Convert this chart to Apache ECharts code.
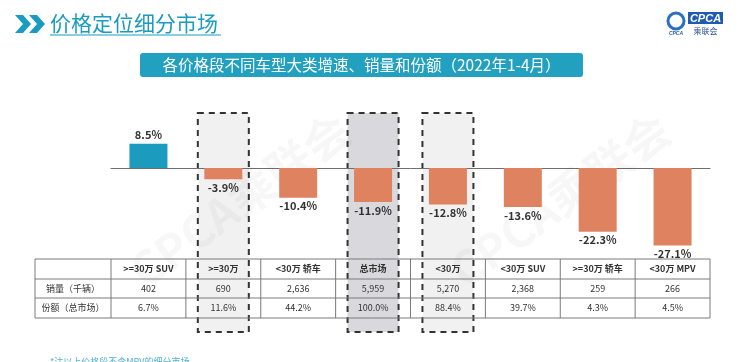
<!DOCTYPE html>
<html><head><meta charset="utf-8">
<script src="https://cdn.jsdelivr.net/npm/echarts@6/dist/echarts.min.js"></script>
<style>html,body{margin:0;padding:0;background:#fff}#c{width:744px;height:362px}</style>
</head><body><div id="c"></div>
<script>
var categories = ['>=30万 SUV', '>=30万', '<30万 轿车', '总市场', '<30万', '<30万 SUV', '>=30万 轿车', '<30万 MPV'];
var growth = [8.5, -3.9, -10.4, -11.9, -12.8, -13.6, -22.3, -27.1];
var sales = ['402', '690', '2,636', '5,959', '5,270', '2,368', '259', '266'];
var share = ['6.7%', '11.6%', '44.2%', '100.0%', '88.4%', '39.7%', '4.3%', '4.5%'];
var rowLabels = ['销量（千辆）', '份额（总市场）'];
var highlighted = { 1: '#f1f1f2', 3: '#d8d8dd', 4: '#f1f1f2' };

var FONT = '"Noto Sans CJK SC", "Noto Sans", sans-serif';
var chart = echarts.init(document.getElementById('c'), null, { renderer: 'canvas' });

var option = {
  backgroundColor: '#fff',
  animation: false,
  grid: { left: 111, right: 34, top: 125.1, height: 128.7 },
  xAxis: {
    type: 'category', data: categories,
    axisLine: { onZero: true, lineStyle: { color: '#6e6e6e', width: 1 } },
    axisTick: { show: false }, axisLabel: { show: false }
  },
  yAxis: {
    type: 'value', min: -30, max: 15, show: false, splitLine: { show: false }
  },
  series: [{
    type: 'bar', barWidth: 38, z: 5,
    data: growth.map(function (v) {
      return {
        value: v,
        itemStyle: { color: v >= 0 ? '#1b9cbf' : '#df8260' },
        label: { position: v >= 0 ? 'top' : 'bottom' }
      };
    }),
    label: {
      show: true, distance: 3, color: '#333', fontSize: 11, fontWeight: 'bold',
      fontFamily: FONT,
      formatter: function (p) { return p.value.toFixed(1) + '%'; }
    }
  }]
};
chart.setOption(option);

function build() {
  var g = [];
  var catW = chart.convertToPixel({ xAxisIndex: 0 }, 1) - chart.convertToPixel({ xAxisIndex: 0 }, 0);
  var tableLeft = 35, tableRight = chart.convertToPixel({ xAxisIndex: 0 }, categories.length - 1) + catW / 2;
  var rowsY = [259, 279, 298, 318];

  // watermark
  g.push({ type: 'text', x: 240, y: 200, rotation: Math.PI / 5, z: 1,
    style: { text: 'CPCA乘联会', font: 'bold 46px ' + FONT, fill: 'rgba(0,0,0,0.03)', align: 'center', verticalAlign: 'middle' } });
  g.push({ type: 'text', x: 560, y: 200, rotation: Math.PI / 5, z: 1,
    style: { text: 'CPCA乘联会', font: 'bold 46px ' + FONT, fill: 'rgba(0,0,0,0.03)', align: 'center', verticalAlign: 'middle' } });

  // highlight boxes
  Object.keys(highlighted).forEach(function (k) {
    var cx = chart.convertToPixel({ xAxisIndex: 0 }, +k);
    g.push({ type: 'rect', z: 0, shape: { x: cx - 25.5, y: 113, width: 51, height: 219 },
      style: { fill: highlighted[k], stroke: '#333', lineWidth: 2, lineDash: [6, 5] } });
  });

  // table lines
  var lineStyle = { stroke: '#7a7a7a', lineWidth: 1 };
  rowsY.forEach(function (y) {
    g.push({ type: 'line', z: 3, shape: { x1: tableLeft, y1: y, x2: tableRight, y2: y }, style: lineStyle });
  });
  var colX = [tableLeft];
  for (var i = 0; i <= categories.length; i++) {
    colX.push(chart.convertToPixel({ xAxisIndex: 0 }, 0) - catW / 2 + i * catW);
  }
  colX.forEach(function (x) {
    g.push({ type: 'line', z: 3, shape: { x1: x, y1: rowsY[0], x2: x, y2: rowsY[3] }, style: lineStyle });
  });

  function cell(text, x, y, bold) {
    g.push({ type: 'text', x: x, y: y, z: 4,
      style: { text: text, font: (bold ? 'bold ' : '') + '9px ' + FONT, fill: '#333', align: 'center', verticalAlign: 'middle' } });
  }
  categories.forEach(function (c, i) {
    var cx = chart.convertToPixel({ xAxisIndex: 0 }, i);
    cell(c, cx, (rowsY[0] + rowsY[1]) / 2, true);
    cell(sales[i], cx, (rowsY[1] + rowsY[2]) / 2, false);
    cell(share[i], cx, (rowsY[2] + rowsY[3]) / 2, false);
  });
  var fx = (tableLeft + colX[1]) / 2;
  cell(rowLabels[0], fx, (rowsY[1] + rowsY[2]) / 2, false);
  cell(rowLabels[1], fx, (rowsY[2] + rowsY[3]) / 2, false);

  // header chevrons
  g.push({ type: 'polygon', z: 6, shape: { points: [[15, 15], [23, 15], [31, 24], [23, 33], [15, 33], [23, 24]] }, style: { fill: '#1b9cbf' } });
  g.push({ type: 'polygon', z: 6, shape: { points: [[29, 15], [37, 15], [45, 24], [37, 33], [29, 33], [37, 24]] }, style: { fill: '#1b9cbf' } });
  g.push({ type: 'text', x: 50, y: 23, z: 6,
    style: { text: '价格定位细分市场', font: '21px ' + FONT, fill: '#1b9cbf', verticalAlign: 'middle' } });
  g.push({ type: 'line', z: 6, shape: { x1: 50, y1: 35, x2: 221, y2: 35 }, style: { stroke: '#1b9cbf', lineWidth: 1.2 } });

  // logo
  g.push({ type: 'rect', z: 6, shape: { x: 688, y: 12, width: 35, height: 12 }, style: { fill: '#1f5bb0' } });
  g.push({ type: 'text', x: 705.5, y: 18.5, z: 7,
    style: { text: 'CPCA', font: 'italic bold 11px "Liberation Sans", sans-serif', fill: '#fff', align: 'center', verticalAlign: 'middle' } });
  g.push({ type: 'text', x: 705.5, y: 31, z: 7,
    style: { text: '乘联会', font: '8px ' + FONT, fill: '#2a4f8f', align: 'center', verticalAlign: 'middle' } });
  g.push({ type: 'circle', z: 6, shape: { cx: 676, cy: 21, r: 8 }, style: { fill: 'none', stroke: '#2a6fc0', lineWidth: 3 } });
  g.push({ type: 'text', x: 676, y: 34, z: 7,
    style: { text: 'CPCA', font: 'italic bold 5px "Liberation Sans", sans-serif', fill: '#1f5bb0', align: 'center', verticalAlign: 'middle' } });

  // subtitle banner
  g.push({ type: 'rect', z: 6, shape: { x: 140, y: 53, width: 443, height: 24, r: 3 }, style: { fill: '#22a0c0' } });
  g.push({ type: 'text', x: 361.5, y: 65, z: 7,
    style: { text: '各价格段不同车型大类增速、销量和份额（2022年1-4月）', font: '15.5px ' + FONT, fill: '#fff', align: 'center', verticalAlign: 'middle' } });

  // footnote
  g.push({ type: 'text', x: 50, y: 362, z: 6,
    style: { text: '*注以上价格段不含MPV的细分市场', font: '9px ' + FONT, fill: '#4fb3d0', verticalAlign: 'middle' } });

  chart.setOption({ graphic: g });
}
build();
</script></body></html>
